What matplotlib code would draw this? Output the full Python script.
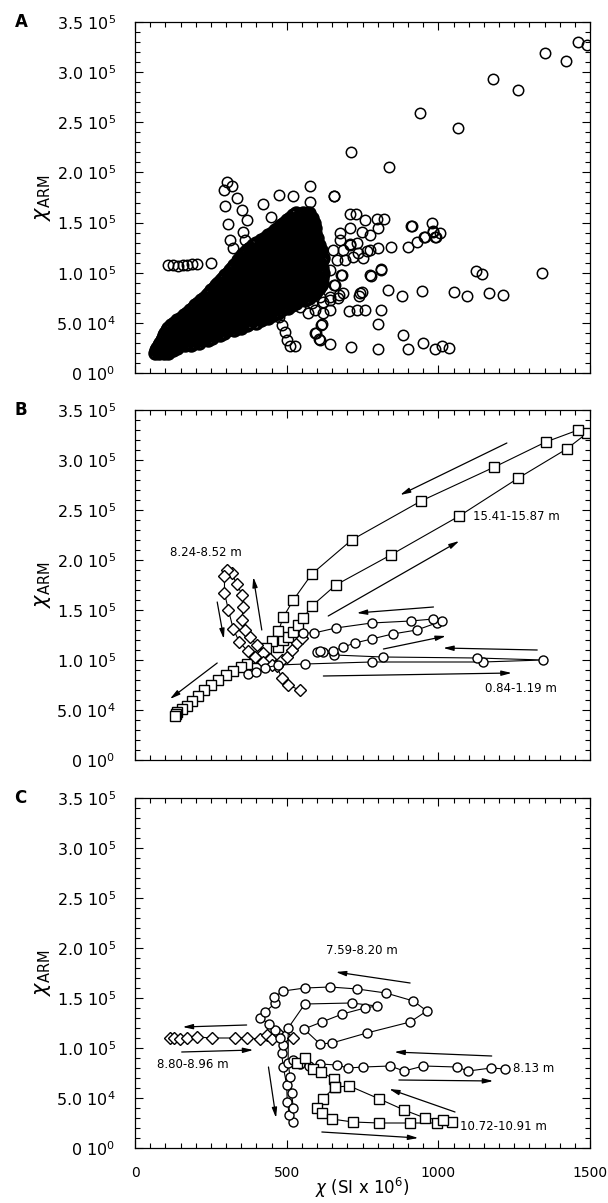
import matplotlib.pyplot as plt
import numpy as np
from matplotlib.ticker import MultipleLocator

plt.rcParams['font.family'] = ['DejaVu Sans']
plt.rcParams['mathtext.fontset'] = 'dejavusans'

# y values are in units of 1e3 (SI), x in SI x 10^-6
# ---------------- panel A : whole record ----------------
# dense cloud, one row per y level
blob_levels = [20, 22.5, 25, 27.5, 30, 32.5, 35, 37.5, 40, 42.5, 45, 47.5, 50, 52.5,
               55, 57.5, 60, 62.5, 65, 67.5, 70, 72.5, 75, 77.5, 80, 82.5, 85, 87.5,
               90, 92.5, 95, 97.5, 100, 102.5, 105, 107.5, 110, 112.5, 115, 117.5,
               120, 122.5, 125, 127.5, 130, 132.5, 135, 137.5, 140, 142.5, 145, 147.5,
               150, 152.5, 155, 157.5, 160]
blob_xs = [
    [65, 80, 95, 110],
    [70, 88, 105, 125],
    [72, 95, 118, 140],
    [78, 100, 122, 145, 165, 185],
    [82, 105, 128, 150, 172, 195, 212],
    [88, 110, 132, 155, 178, 200, 222, 240],
    [92, 115, 138, 160, 185, 208, 232, 255],
    [96, 118, 142, 165, 190, 215, 238, 262, 280],
    [100, 122, 145, 170, 195, 220, 245, 270, 295],
    [105, 128, 152, 178, 202, 228, 252, 278, 302, 325],
    [110, 135, 160, 185, 210, 235, 260, 285, 310, 335, 350],
    [120, 145, 170, 195, 220, 245, 270, 295, 320, 345, 370],
    [128, 152, 178, 202, 228, 252, 278, 302, 328, 352, 378, 398],
    [140, 165, 190, 215, 240, 265, 290, 315, 340, 365, 390, 415],
    [150, 175, 200, 225, 250, 275, 300, 325, 350, 375, 400, 425, 440],
    [160, 185, 210, 235, 260, 285, 310, 335, 360, 385, 410, 435, 455],
    [170, 195, 220, 245, 270, 295, 320, 345, 370, 395, 420, 445, 470],
    [180, 205, 230, 255, 280, 305, 330, 355, 380, 405, 430, 455, 480],
    [190, 215, 240, 265, 290, 315, 340, 365, 390, 415, 440, 465, 490, 505],
    [198, 222, 248, 272, 298, 322, 348, 372, 398, 422, 448, 472, 498, 518],
    [208, 232, 258, 282, 308, 332, 358, 382, 408, 432, 458, 482, 508, 530],
    [218, 242, 268, 292, 318, 342, 368, 392, 418, 442, 468, 492, 518, 542, 560],
    [228, 252, 278, 302, 328, 352, 378, 402, 428, 452, 478, 502, 528, 552, 575],
    [238, 262, 288, 312, 338, 362, 388, 412, 438, 462, 488, 512, 538, 562, 585],
    [245, 270, 295, 320, 345, 370, 395, 420, 445, 470, 495, 520, 545, 570, 595],
    [252, 278, 302, 328, 352, 378, 402, 428, 452, 478, 502, 528, 552, 578, 600],
    [260, 285, 310, 335, 360, 385, 410, 435, 460, 485, 510, 535, 560, 585, 605],
    [268, 292, 318, 342, 368, 392, 418, 442, 468, 492, 518, 542, 568, 592, 612],
    [275, 300, 325, 350, 375, 400, 425, 450, 475, 500, 525, 550, 575, 600, 618],
    [282, 308, 332, 358, 382, 408, 432, 458, 482, 508, 532, 558, 582, 608],
    [290, 315, 340, 365, 390, 415, 440, 465, 490, 515, 540, 565, 590, 615],
    [298, 322, 348, 372, 398, 422, 448, 472, 498, 522, 548, 572, 598, 618],
    [305, 330, 355, 380, 405, 430, 455, 480, 505, 530, 555, 580, 605, 620],
    [312, 338, 362, 388, 412, 438, 462, 488, 512, 538, 562, 588, 612],
    [320, 345, 370, 395, 420, 445, 470, 495, 520, 545, 570, 595, 618],
    [328, 352, 378, 402, 428, 452, 478, 502, 528, 552, 578, 602],
    [335, 360, 385, 410, 435, 460, 485, 510, 535, 560, 585, 610],
    [340, 365, 390, 415, 440, 465, 490, 515, 540, 565, 590, 615],
    [345, 370, 395, 420, 445, 470, 495, 520, 545, 570, 595, 620],
    [352, 378, 402, 428, 452, 478, 502, 528, 552, 578, 602],
    [360, 385, 410, 435, 460, 485, 510, 535, 560, 585, 610],
    [370, 395, 420, 445, 470, 495, 520, 545, 570, 595, 612],
    [380, 405, 430, 455, 480, 505, 530, 555, 580, 605],
    [390, 415, 440, 465, 490, 515, 540, 565, 590, 605],
    [400, 425, 450, 475, 500, 525, 550, 575, 600],
    [415, 440, 465, 490, 515, 540, 565, 590],
    [430, 455, 480, 505, 530, 555, 580, 600],
    [440, 465, 490, 515, 540, 565, 590],
    [450, 475, 500, 525, 550, 575, 595],
    [460, 485, 510, 535, 560, 585],
    [470, 495, 520, 545, 570, 595],
    [480, 505, 530, 555, 580],
    [490, 515, 540, 565, 590],
    [500, 525, 550, 575],
    [510, 535, 560, 585],
    [520, 545, 570],
    [530, 555, 575],
]
# scattered samples outside the cloud
out_x = [1491, 1460, 1352, 1420, 1181, 1262, 940, 1064, 711, 839, 578, 655, 577,
         1343, 1124, 1145, 1053, 1095, 1168, 1213, 946, 881, 835, 747, 739, 775, 811,
         845, 901, 913, 979, 1006, 800, 712, 643, 609, 592, 613, 801, 883, 901, 951,
         990, 1035, 1012, 812, 705, 733, 758, 709, 758, 797, 822, 982, 991, 955, 929,
         802, 775, 736, 709, 679, 657, 673, 643,
         109, 125, 142, 158, 171, 188, 204, 250,
         302, 319, 293, 335, 298, 352, 368, 308, 357, 313, 363, 324, 374, 401, 421,
         474, 522, 447, 511, 500, 495, 484, 476, 657, 727, 910, 953, 989, 981, 811,
         777, 742, 615, 596, 607, 527, 654, 687, 709, 731, 764, 753, 720, 692, 665,
         676, 709, 747, 775, 802, 676, 643, 681, 659, 687, 670, 643, 610, 583, 621,
         593, 643, 621, 571, 544]
out_y = [327, 330, 319, 311, 293, 282, 259, 244, 220, 205, 186, 176, 171,
         100, 102, 99, 81, 77, 80, 78, 82, 77, 83, 81, 77, 98, 104,
         126, 126, 147, 150, 140, 24, 26, 29, 33, 40, 48, 49, 38, 24, 30,
         24, 25, 27, 63, 62, 63, 63, 159, 153, 154, 154, 142, 136, 136, 131,
         125, 123, 120, 129, 98, 88, 78, 73,
         108, 108, 107, 108, 108, 109, 109, 110,
         190, 186, 182, 175, 167, 163, 153, 149, 141, 133, 133, 125, 125, 130, 169,
         177, 176, 156, 27, 33, 41, 48, 56, 176, 159, 147, 136, 136, 141, 103,
         97, 80, 49, 40, 34, 27, 123, 123, 128, 130, 122, 115, 116, 113, 113,
         140, 145, 141, 138, 145, 133, 103, 98, 88, 80, 75, 76, 76, 70, 71,
         63, 63, 60, 60, 66]

# ---------------- panel B ----------------
b_sq_x = [470, 489, 505, 522, 538, 555, 583, 662, 843, 1069, 1264, 1423, 1491, 1461,
          1354, 1185, 943, 714, 583, 522, 489, 473, 450, 431, 392, 368, 349, 324, 299,
          272, 251, 229, 209, 189, 170, 154, 140, 134, 131]
b_sq_y = [113, 120, 123, 128, 135, 142, 154, 175, 205, 244, 282, 311, 327, 330,
          318, 293, 259, 220, 186, 160, 143, 129, 119, 112, 102, 96, 93, 89, 85,
          80, 75, 70, 64, 59, 54, 51, 48, 46, 44]
b_di_x = [544, 503, 484, 467, 445, 423, 401, 379, 363, 354, 355, 354, 335, 319, 302,
          295, 295, 308, 324, 344, 371, 396, 423, 450, 484, 500, 517, 533, 550]
b_di_y = [70, 75, 82, 94, 101, 107, 115, 123, 130, 140, 153, 165, 176, 187, 190,
          184, 167, 150, 131, 118, 109, 103, 98, 95, 100, 103, 110, 117, 122]
b_ci_x = [374, 400, 430, 470, 560, 780, 1146, 1346, 1127, 817, 656, 621, 599, 610,
          654, 687, 725, 780, 849, 929, 994, 1011, 984, 909, 780, 662, 590, 555]
b_ci_y = [86, 88, 92, 95, 96, 98, 98, 100, 102, 103, 105, 108, 108, 109,
          109, 113, 117, 121, 126, 130, 137, 139, 141, 139, 137, 132, 127, 127]
b_labels = ['8.24-8.52 m', '15.41-15.87 m', '0.84-1.19 m']
b_label_x = [115, 1115, 1154]
b_label_y = [207, 243, 71]
b_arrow_tail = [(1226, 317), (637, 144), (984, 153), (819, 111), (1326, 110),
                (621, 84), (271, 97), (271, 158), (418, 130)]
b_arrow_head = [(874, 265), (1069, 219), (731, 147), (1025, 124), (1016, 112),
                (1242, 87), (115, 61), (293, 121), (390, 183)]

# ---------------- panel C ----------------
c_di_x = [115, 129, 148, 170, 203, 253, 330, 368, 412, 434, 451, 473, 495, 520]
c_di_y = [110, 110, 109, 110, 111, 110, 110, 110, 109, 113, 109, 115, 112, 110]
c_ci_x = [522, 509, 502, 500, 489, 483, 489, 478, 462, 443, 412, 429, 463, 458, 489,
          560, 643, 733, 827, 918, 962, 907, 764, 649, 610, 557, 616, 684, 758, 797,
          714, 560, 505, 505, 511, 516, 522]
c_ci_y = [26, 33, 46, 63, 81, 95, 103, 110, 118, 124, 130, 136, 145, 151, 157,
          160, 161, 159, 155, 147, 137, 126, 115, 105, 104, 119, 126, 134, 140, 142,
          145, 144, 120, 85, 71, 55, 40]
c_c2_x = [520, 545, 575, 610, 665, 703, 753, 841, 887, 951, 1060, 1099, 1174, 1220]
c_c2_y = [88, 84, 82, 84, 83, 80, 81, 82, 77, 82, 81, 77, 80, 79]
c_sq_x = [533, 560, 588, 612, 657, 659, 619, 599, 616, 649, 718, 806, 907, 995, 1044,
          1016, 956, 887, 806, 707, 659]
c_sq_y = [85, 90, 79, 76, 69, 61, 49, 40, 35, 29, 26, 25, 25, 25, 26,
          28, 30, 38, 49, 62, 61]
c_labels = ['7.59-8.20 m', '8.13 m', '10.72-10.91 m', '8.80-8.96 m']
c_label_x = [630, 1247, 1072, 71]
c_label_y = [197, 79, 21, 84]
c_arrow_tail = [(440, 81), (907, 165), (1176, 92), (870, 68), (1055, 36),
                (616, 16), (368, 123), (154, 96)]
c_arrow_head = [(465, 30), (662, 176), (855, 96), (1181, 67), (838, 59),
                (934, 10), (157, 121), (390, 98)]

yticks = [0, 50e3, 100e3, 150e3, 200e3, 250e3, 300e3, 350e3]
ytick_labels = ['0 10$^{0}$', '5.0 10$^{4}$', '1.0 10$^{5}$', '1.5 10$^{5}$',
                '2.0 10$^{5}$', '2.5 10$^{5}$', '3.0 10$^{5}$', '3.5 10$^{5}$']
xticks = [0, 500, 1000, 1500]

fig = plt.figure(figsize=(6.08, 12.03), dpi=100)
W, H = 608.0, 1203.0
boxes = [(22, 373), (410, 760), (798, 1148)]
axes = []
for top, bot in boxes:
    ax = fig.add_axes([135 / W, 1 - bot / H, 455 / W, (bot - top) / H])
    ax.set_xlim(0, 1500)
    ax.set_ylim(0, 350e3)
    ax.set_yticks(yticks)
    ax.set_yticklabels(ytick_labels)
    ax.set_xticks(xticks)
    ax.xaxis.set_minor_locator(MultipleLocator(50))
    ax.yaxis.set_minor_locator(MultipleLocator(10e3))
    ax.tick_params(which='both', direction='in', top=True, right=True, width=0.8)
    ax.tick_params(which='major', length=6)
    ax.tick_params(which='minor', length=3.5)
    ax.tick_params(axis='y', labelsize=11.5, pad=14)
    ax.tick_params(axis='x', labelsize=10, pad=13)
    for s in ax.spines.values():
        s.set_linewidth(0.9)
    ax.set_ylabel(r'$\chi_{\mathrm{ARM}}$', fontsize=15, labelpad=2)
    axes.append(ax)

axA, axB, axC = axes
axA.tick_params(axis='x', labelbottom=False)
axB.tick_params(axis='x', labelbottom=False)
axC.set_xticklabels([str(v) for v in xticks])
axC.set_xlabel(r'$\chi$ (SI x 10$^{6}$)', fontsize=12)
axC.xaxis.set_label_coords(0.5, -0.115)
axC.xaxis.label.set_va('center')

for ax, letter in zip(axes, ['A', 'B', 'C']):
    ax.text(-0.265, 1.0, letter, transform=ax.transAxes, fontsize=12,
            fontweight='bold', ha='left', va='center')

# panel A
cx = []
cy = []
for yl, xs in zip(blob_levels, blob_xs):
    cx += xs
    cy += [yl] * len(xs)
axA.plot(cx, np.array(cy) * 1e3, 'o', ls='none', mfc='none', mec='black',
         ms=8, mew=2.4)
axA.plot(out_x, np.array(out_y) * 1e3, 'o', ls='none', mfc='none', mec='black',
         ms=7.5, mew=1.1)

mk = dict(mfc='white', mec='black', color='black', lw=0.8, mew=1.0)


def draw_arrows(ax, tails, heads):
    for (tx, ty), (hx, hy) in zip(tails, heads):
        ax.annotate('', xy=(hx, hy * 1e3), xytext=(tx, ty * 1e3),
                    arrowprops=dict(arrowstyle='-|>,head_length=0.6,head_width=0.15',
                                    color='black', lw=0.9, shrinkA=0, shrinkB=0))


# panel B
axB.plot(b_sq_x, np.array(b_sq_y) * 1e3, marker='s', ms=6.5, **mk)
axB.plot(b_di_x, np.array(b_di_y) * 1e3, marker='D', ms=6, **mk)
axB.plot(b_ci_x, np.array(b_ci_y) * 1e3, marker='o', ms=6.5, **mk)
for t, x, y in zip(b_labels, b_label_x, b_label_y):
    axB.text(x, y * 1e3, t, fontsize=8.5, ha='left', va='center')
draw_arrows(axB, b_arrow_tail, b_arrow_head)

# panel C
axC.plot(c_di_x, np.array(c_di_y) * 1e3, marker='D', ms=6, **mk)
axC.plot(c_ci_x, np.array(c_ci_y) * 1e3, marker='o', ms=6.5, **mk)
axC.plot(c_c2_x, np.array(c_c2_y) * 1e3, marker='o', ms=6.5, **mk)
axC.plot(c_sq_x, np.array(c_sq_y) * 1e3, marker='s', ms=6.5, **mk)
for t, x, y in zip(c_labels, c_label_x, c_label_y):
    axC.text(x, y * 1e3, t, fontsize=8.5, ha='left', va='center')
draw_arrows(axC, c_arrow_tail, c_arrow_head)

fig.savefig('out.png', dpi=100)
